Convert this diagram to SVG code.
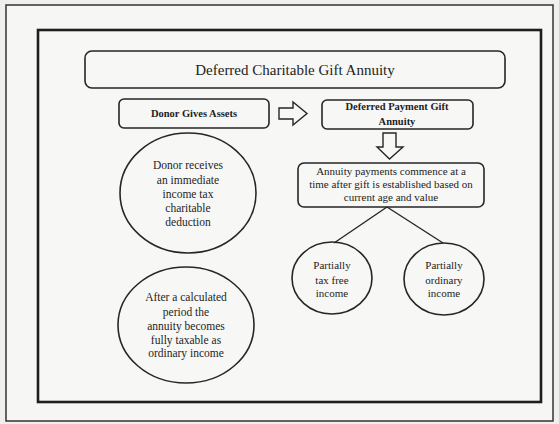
<svg xmlns="http://www.w3.org/2000/svg" width="559" height="424" viewBox="0 0 559 424">
<style>
.t{font-family:"Liberation Serif","Times New Roman",serif;fill:#1e1e1e;text-anchor:middle}
.s{fill:#f7f7f5;stroke:#262626;stroke-width:1.6}
.c{fill:none;stroke:#262626;stroke-width:1.4}
</style>
<rect width="559" height="424" fill="#efefed"/>
<rect x="6" y="5" width="547" height="416" fill="#f6f6f4" stroke="#333" stroke-width="1.5"/>
<rect x="38" y="30" width="503" height="372" fill="#f7f7f5" stroke="#1e1e1e" stroke-width="2.6"/>
<g id="title">
<rect class="s" x="85" y="51" width="420" height="37" rx="7"/>
<text class="t" x="295" y="75" font-size="15">Deferred Charitable Gift Annuity</text>
</g>
<g id="donor">
<rect class="s" x="119" y="99" width="150" height="29" rx="5"/>
<text class="t" x="194" y="117" font-size="10.5" font-weight="bold">Donor Gives Assets</text>
</g>
<g id="deferred">
<rect class="s" x="322" y="100" width="151" height="29" rx="5"/>
<text class="t" x="397" y="110" font-size="10.5" font-weight="bold">Deferred Payment Gift</text>
<text class="t" x="397" y="125" font-size="10.5" font-weight="bold">Annuity</text>
</g>
<g id="annuity">
<rect class="s" x="298" y="163" width="186" height="44" rx="6"/>
<text class="t" x="391" y="175" font-size="11">Annuity payments commence at a</text>
<text class="t" x="391" y="188" font-size="11">time after gift is established based on</text>
<text class="t" x="391" y="201" font-size="11">current age and value</text>
</g>
<g id="deduction">
<ellipse class="s" cx="188" cy="193" rx="68" ry="60"/>
<text class="t" x="188" y="169" font-size="11.5">Donor receives</text>
<text class="t" x="188" y="184" font-size="11.5">an immediate</text>
<text class="t" x="188" y="198" font-size="11.5">income tax</text>
<text class="t" x="188" y="212" font-size="11.5">charitable</text>
<text class="t" x="188" y="226" font-size="11.5">deduction</text>
</g>
<g id="taxable">
<ellipse class="s" cx="186" cy="325" rx="68" ry="58"/>
<text class="t" x="186" y="301" font-size="11.5">After a calculated</text>
<text class="t" x="186" y="316" font-size="11.5">period the</text>
<text class="t" x="186" y="330" font-size="11.5">annuity becomes</text>
<text class="t" x="186" y="344" font-size="11.5">fully taxable as</text>
<text class="t" x="186" y="357" font-size="11.5">ordinary income</text>
</g>
<g id="taxfree">
<ellipse class="s" cx="332" cy="278" rx="40" ry="36"/>
<text class="t" x="332" y="269" font-size="11">Partially</text>
<text class="t" x="332" y="284" font-size="11">tax free</text>
<text class="t" x="332" y="297" font-size="11">income</text>
</g>
<g id="ordinary">
<ellipse class="s" cx="444" cy="279" rx="40" ry="36"/>
<text class="t" x="444" y="269" font-size="11">Partially</text>
<text class="t" x="444" y="284" font-size="11">ordinary</text>
<text class="t" x="444" y="297" font-size="11">income</text>
</g>
<g id="connectors">
<path class="c" d="M279,108 H293 V102 L307,113.5 L293,125 V119 H279 Z" fill="#f7f7f5"/>
<path class="c" d="M383,133 H396 V147 H403 L389.5,159 L377,147 H383 Z" fill="#f7f7f5"/>
<line class="c" x1="387" y1="207" x2="334" y2="243"/>
<line class="c" x1="387" y1="207" x2="443" y2="243"/>
</g>
</svg>
